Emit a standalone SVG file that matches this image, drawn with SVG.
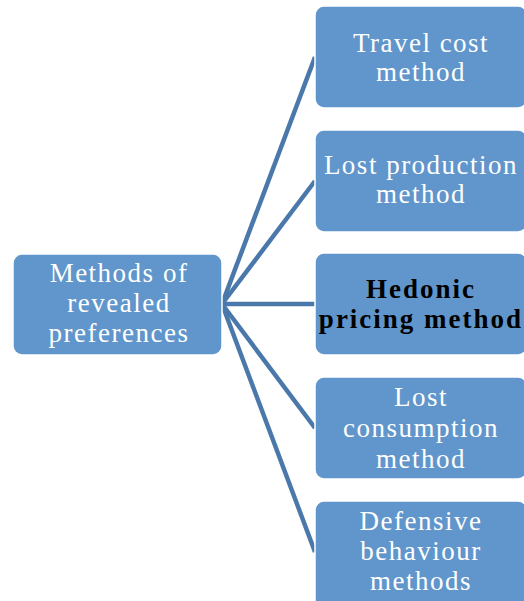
<svg xmlns="http://www.w3.org/2000/svg" width="524" height="601" viewBox="0 0 524 601">
<style>
.box{fill:#6096cb;stroke:#ffffff;stroke-width:1.5}
.t{font-family:"Liberation Serif","DejaVu Serif",serif;font-size:27px;letter-spacing:1.5px;fill:#ffffff;text-anchor:middle}
.b{font-weight:bold;fill:#000000;letter-spacing:2px}
.c{stroke:#4a78aa;stroke-width:4.5;fill:none}
</style>
<rect width="524" height="601" fill="#ffffff"/>
<g id="connectors">
<line class="c" x1="222" y1="304" x2="315" y2="57"/>
<line class="c" x1="222" y1="304" x2="315" y2="181"/>
<line class="c" x1="222" y1="304" x2="315" y2="304"/>
<line class="c" x1="222" y1="304" x2="315" y2="428"/>
<line class="c" x1="222" y1="304" x2="315" y2="552"/>
</g>
<g id="root">
<rect class="box" x="13" y="254" width="209" height="101" rx="9"/>
<text class="t" x="119" y="282">Methods of</text>
<text class="t" x="119" y="312">revealed</text>
<text class="t" x="119" y="342">preferences</text>
</g>
<g id="travel">
<rect class="box" x="315" y="6" width="212" height="102" rx="9"/>
<text class="t" x="421" y="52">Travel cost</text>
<text class="t" x="421" y="81">method</text>
</g>
<g id="lostprod">
<rect class="box" x="315" y="130" width="212" height="102" rx="9"/>
<text class="t" x="421" y="174">Lost production</text>
<text class="t" x="421" y="203">method</text>
</g>
<g id="hedonic">
<rect class="box" x="315" y="253" width="212" height="102" rx="9"/>
<text class="t b" x="421" y="298">Hedonic</text>
<text class="t b" x="421" y="328">pricing method</text>
</g>
<g id="lostcons">
<rect class="box" x="315" y="377" width="212" height="102" rx="9"/>
<text class="t" x="421" y="406">Lost</text>
<text class="t" x="421" y="437">consumption</text>
<text class="t" x="421" y="468">method</text>
</g>
<g id="defensive">
<rect class="box" x="315" y="501" width="212" height="110" rx="9"/>
<text class="t" x="421" y="530">Defensive</text>
<text class="t" x="421" y="560">behaviour</text>
<text class="t" x="421" y="590">methods</text>
</g>
</svg>
